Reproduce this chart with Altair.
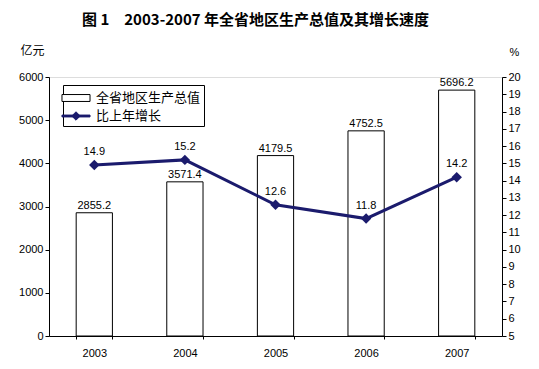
import altair as alt
import pandas as pd

years = ["2003", "2004", "2005", "2006", "2007"]
gdp = [2855.2, 3571.4, 4179.5, 4752.5, 5696.2]
growth = [14.9, 15.2, 12.6, 11.8, 14.2]
series_names = ["全省地区生产总值", "比上年增长"]
left_ticks = [0, 1000, 2000, 3000, 4000, 5000, 6000]
right_ticks = list(range(5, 21))

NAVY = "#1b1b6d"
FONT = "Liberation Sans"
CJK = "Noto Sans CJK SC"

df = pd.DataFrame({
    "year": years,
    "gdp": gdp,
    "growth": growth,
    "gdp_label": [f"{v:.1f}" for v in gdp],
    "growth_label": [f"{v:.1f}" for v in growth],
    "s_bar": series_names[0],
    "s_line": series_names[1],
})

base = alt.Chart(df)

x_enc = alt.X("year:N", title=None,
              scale=alt.Scale(paddingInner=0.6, paddingOuter=0.3),
              axis=alt.Axis(labelAngle=0, labelFont=FONT, labelFontSize=11,
                            labelColor="black", domainColor="black",
                            tickColor="black", tickSize=3, tickBand="extent",
                            labelPadding=8))

shape_paths = [
    "M-1.5,-0.37H1.5V0.37H-1.5Z",
    "M-1.5,-0.1H1.5V0.1H-1.5Z M0,-0.45L0.45,0L0,0.45L-0.45,0Z",
]

fill_scale = alt.Scale(domain=series_names, range=["white", NAVY])
stroke_scale = alt.Scale(domain=series_names, range=["black", NAVY])
shape_scale = alt.Scale(domain=series_names, range=shape_paths)

legend = alt.Legend(title=None, orient="none", legendX=14, legendY=8,
                    labelFont=CJK, labelFontSize=13, labelColor="black",
                    symbolSize=350, symbolStrokeWidth=1, symbolOpacity=1,
                    labelOffset=10, strokeColor="black", fillColor="white",
                    padding=3, rowPadding=1, offset=0)

left_axis = alt.Axis(values=left_ticks, format="d", labelFont=FONT,
                     labelFontSize=11, labelOverlap=False,
                     labelColor="black", domainColor="black",
                     tickColor="black", tickSize=4, grid=False,
                     titleAngle=0, titleX=-17, titleY=-20,
                     titleFont=CJK, titleFontSize=12,
                     titleFontWeight="normal", titleColor="black",
                     titleAlign="center")
left_scale = alt.Scale(domain=[0, 6000], nice=False)

bars = base.mark_bar(strokeWidth=1).encode(
    x=x_enc,
    y=alt.Y("gdp:Q", title="亿元", scale=left_scale, axis=left_axis),
    fill=alt.Fill("s_bar:N", scale=fill_scale, legend=legend),
    stroke=alt.Stroke("s_bar:N", scale=stroke_scale, legend=legend),
)

bar_labels = base.mark_text(baseline="bottom", dy=-2, font=FONT, fontSize=11,
                            color="black").encode(
    x="year:N",
    y=alt.Y("gdp:Q", title="亿元", scale=left_scale, axis=left_axis),
    text="gdp_label:N",
)

left = alt.layer(bars, bar_labels)

right_axis = alt.Axis(orient="right", values=right_ticks, format="d",
                      labelFont=FONT, labelOverlap=False,
                      labelFontSize=11, labelColor="black",
                      domainColor="black", tickColor="black",
                      tickSize=4, grid=False, titleAngle=0,
                      titleX=12, titleY=-20, titleFont=FONT,
                      titleFontSize=11, titleFontWeight="normal",
                      titleColor="black", titleAlign="center")
right_scale = alt.Scale(domain=[5, 20], nice=False)


def y_right():
    return alt.Y("growth:Q", title="%", scale=right_scale, axis=right_axis)


line = base.mark_line(color=NAVY, strokeWidth=3).encode(
    x="year:N", y=y_right())
points = base.mark_point(shape="diamond", size=110, filled=True,
                         color=NAVY, opacity=1).encode(
    x="year:N", y=y_right())
legend_helper = base.transform_filter("false").mark_point(
    filled=True, opacity=1).encode(
    x="year:N", y=y_right(),
    shape=alt.Shape("s_line:N", scale=shape_scale, legend=legend),
    fill=alt.Fill("s_line:N", scale=fill_scale, legend=legend),
    stroke=alt.Stroke("s_line:N", scale=stroke_scale, legend=legend),
)
line_labels = base.mark_text(baseline="bottom", dy=-8, font=FONT, fontSize=11,
                             color="black").encode(
    x="year:N", y=y_right(), text="growth_label:N")

right = alt.layer(line, points, line_labels, legend_helper)

chart = alt.layer(left, right).resolve_scale(
    y="independent"
).properties(
    width=453, height=259,
    autosize=alt.AutoSizeParams(type="none"),
    padding={"left": 41, "top": 69, "right": 29, "bottom": 25},
    title=alt.TitleParams("图 1　2003-2007 年全省地区生产总值及其增长速度",
                          font=CJK, fontSize=15, fontWeight="bold",
                          color="black", anchor="middle", dx=-20, offset=16),
).configure_view(stroke="black", strokeWidth=1).configure(background="white")

chart.save("out.html", embed_options={"renderer": "svg", "actions": False})
